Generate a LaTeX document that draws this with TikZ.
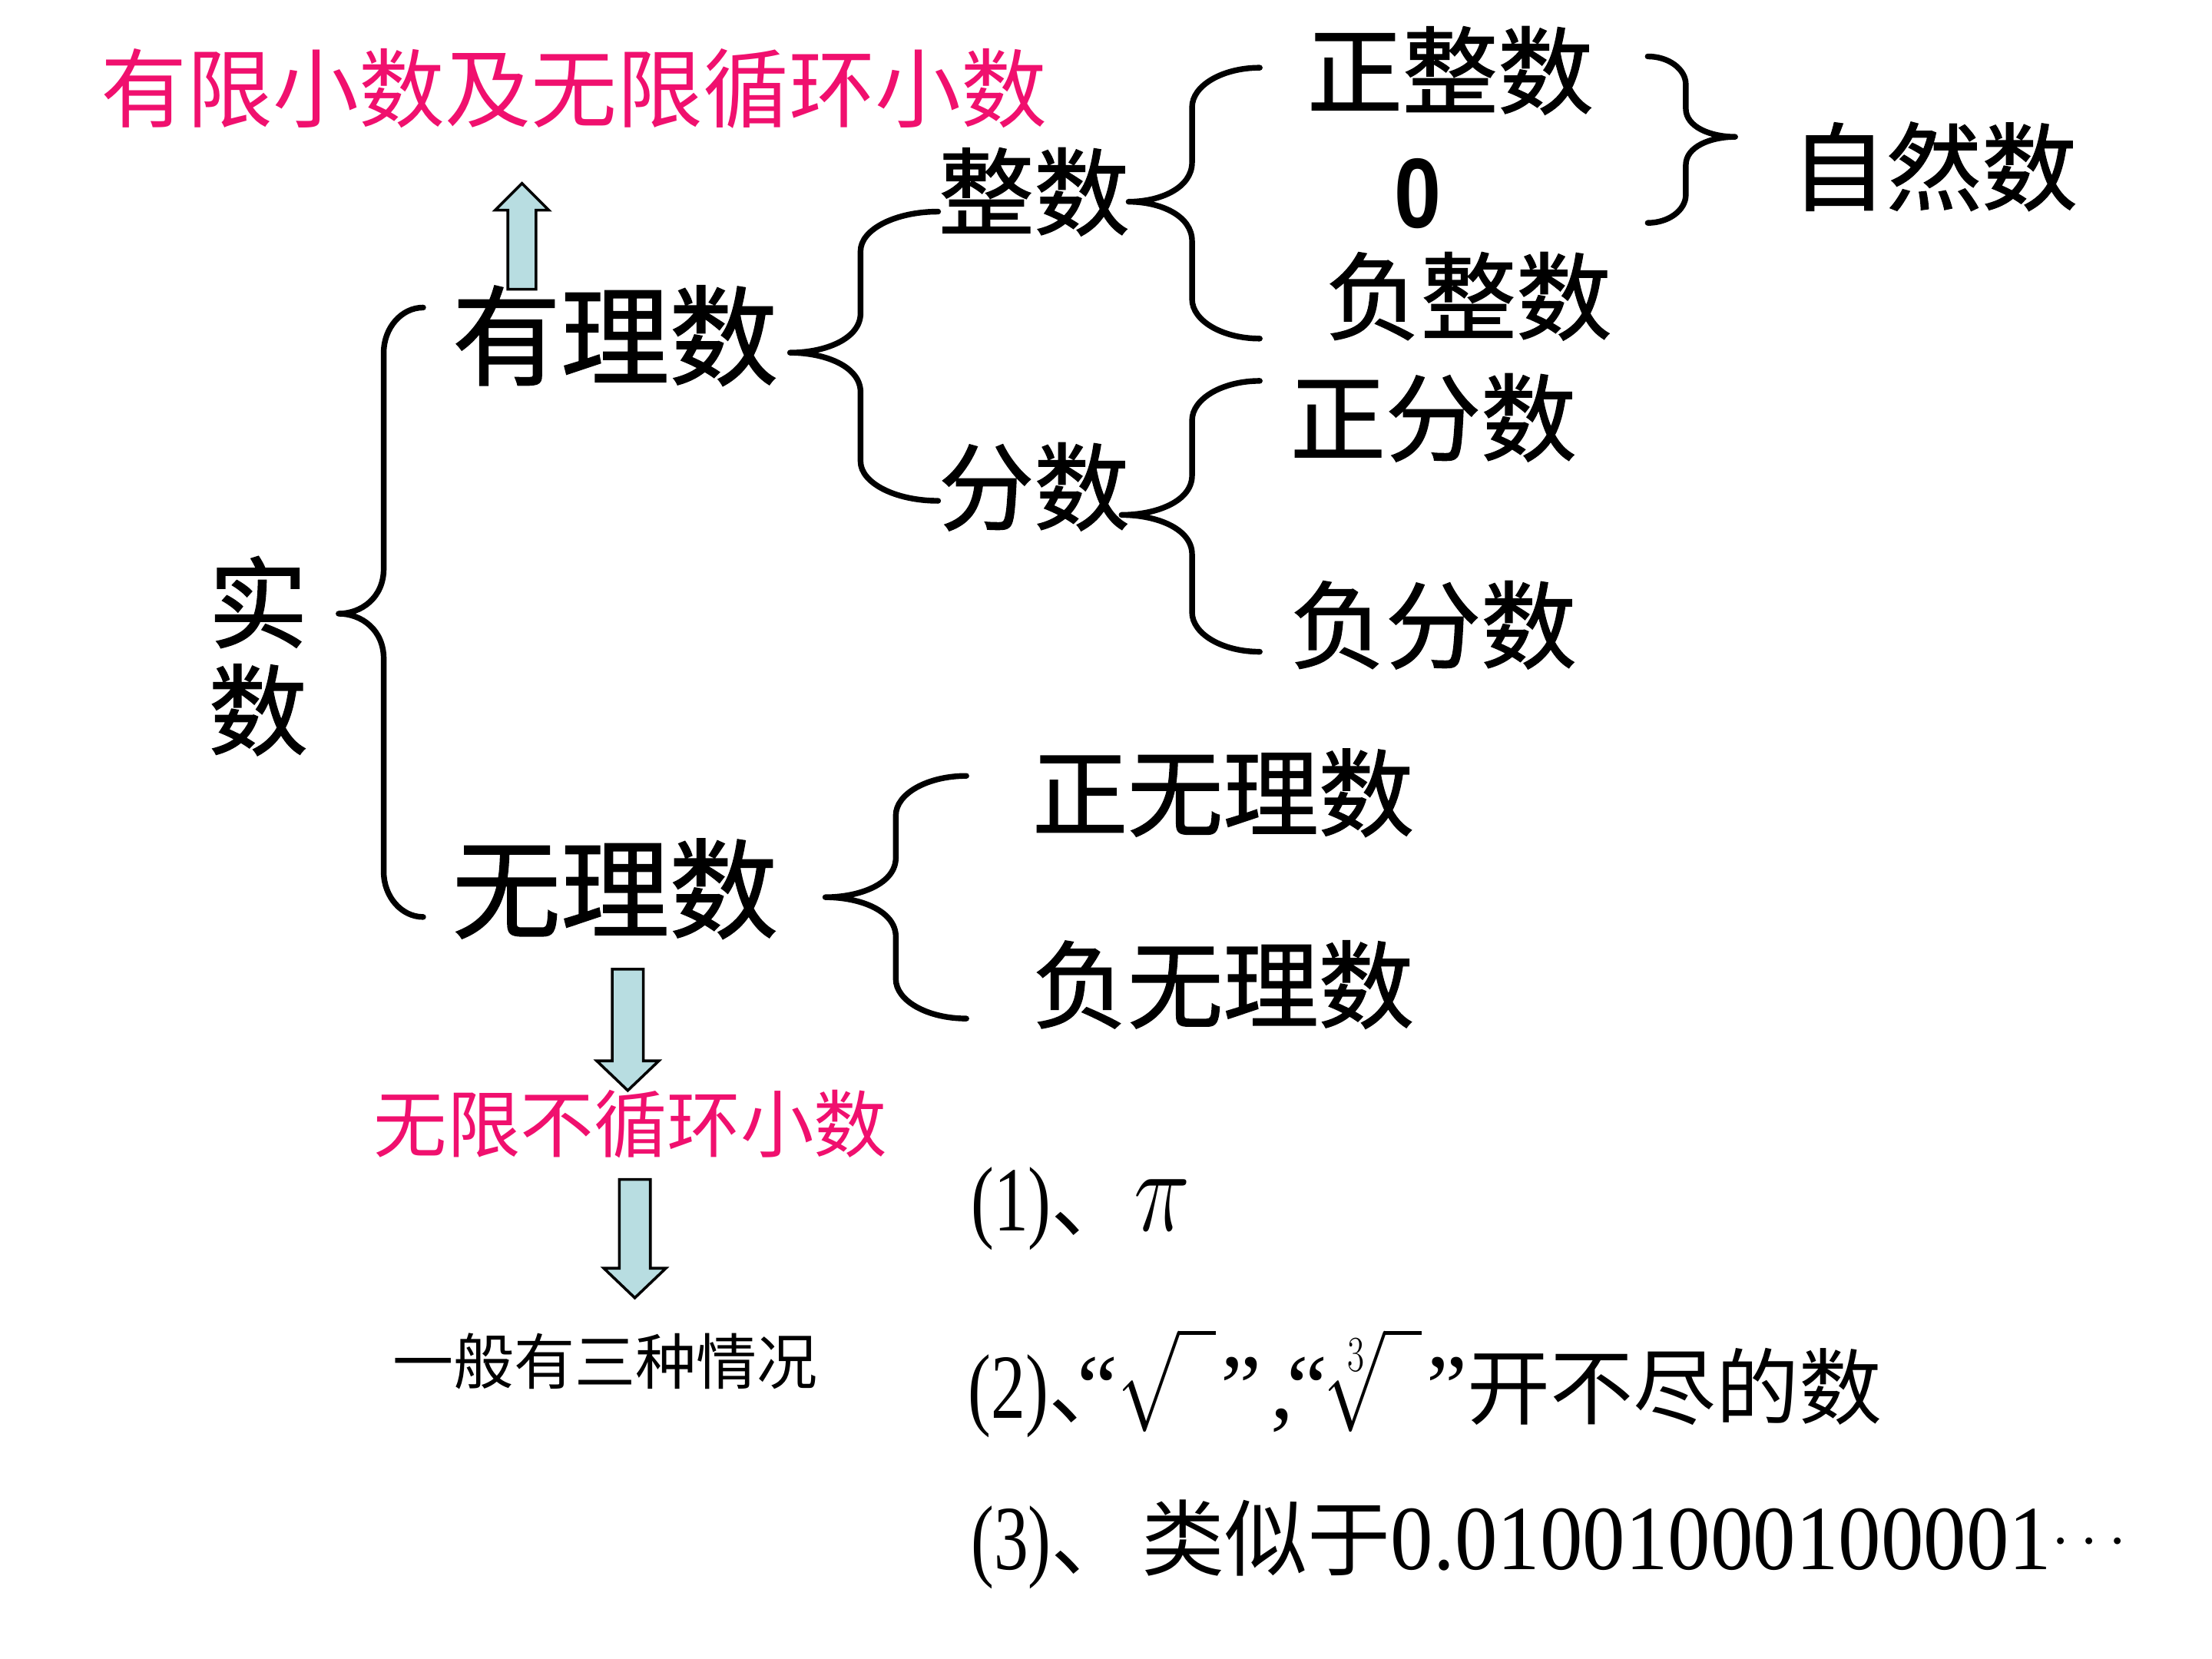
\RequirePackage{fix-cm}
\documentclass[tikz,border=0pt]{standalone}
\usepackage{fontspec}
\usepackage{graphicx}
\setmainfont{Liberation Serif}
\newfontfamily\cjk{Noto Sans CJK SC}
\newfontfamily\cjkb{Noto Sans CJK SC}[FakeBold=1.2]
\newfontfamily\arialf{Liberation Sans}
\definecolor{hot}{RGB}{240,16,110}
\definecolor{arrfill}{RGB}{184,221,225}
\newcommand\squash[1]{\scalebox{0.75}[1]{#1}}
% brace: xe yt yb xv xt ym r
\newcommand\drawbrace[7]{%
 \draw[br] (#1,#2) .. controls ({#4+0.45*(#1-#4)},#2) and (#4,{#2+0.45*#7}) .. (#4,{#2+#7})
 -- (#4,{#6-#7}) .. controls (#4,{#6-0.35*#7}) and ({#5+0.5*(#4-#5)},#6) .. (#5,#6)
 .. controls ({#5+0.5*(#4-#5)},#6) and (#4,{#6+0.35*#7}) .. (#4,{#6+#7})
 -- (#4,{#3-#7}) .. controls (#4,{#3-0.45*#7}) and ({#4+0.45*(#1-#4)},#3) .. (#1,#3);}
% block arrow: x, ybase, yheadbase, ytip, shafthalf, headhalf
\newcommand\blkarrow[6]{%
 \draw[blk] ({#1-#5},#2) -- ({#1-#5},#3) -- ({#1-#6},#3) -- (#1,#4) -- ({#1+#6},#3) -- ({#1+#5},#3) -- ({#1+#5},#2) -- cycle;}
\tikzset{
 br/.style={line width=2.3pt, line cap=round, line join=round},
 blk/.style={draw=black, line width=1.1pt, fill=arrfill, line join=miter},
 big/.style={font=\cjkb\fontsize{43.8}{48}\selectfont, inner sep=0pt},
 mid/.style={font=\cjkb\fontsize{38.5}{42}\selectfont, inner sep=0pt},
 ttl/.style={font=\cjk\fontsize{34.7}{38}\selectfont, text=hot, inner sep=0pt},
 red2/.style={font=\cjk\fontsize{29.6}{32}\selectfont, text=hot, inner sep=0pt},
 small/.style={font=\cjk\fontsize{24.5}{27}\selectfont, inner sep=0pt},
 bot/.style={font=\fontsize{37}{40}\selectfont, inner sep=0pt, anchor=west},
}
\newcommand\bc{\cjk\fontsize{33.5}{36}\selectfont}
\newcommand\rad{\scalebox{0.8}[1.1]{$\sqrt{\vphantom{A}\hspace{0.5em}}$}}
\newcommand\radc{\scalebox{0.8}[1.1]{$\sqrt[3]{\vphantom{A}\hspace{0.5em}}$}}
\begin{document}
\begin{tikzpicture}[x=0.02cm,y=-0.02cm]
\useasboundingbox[fill=white] (0,0) rectangle (1568,1176);
% texts
\node[ttl] (t1) at (407,63) {有限小数及无限循环小数};
\node[big, align=center, font=\cjkb\fontsize{40}{43.2}\selectfont] (shishu) at (183,465) {实\\数};
\node[big] (youli) at (436,238) {有理数};
\node[big] (wuli) at (436,630) {无理数};
\node[mid] (zhengshu) at (733,136) {整数};
\node[mid] (fenshu) at (733,345) {分数};
\node[mid] (zz) at (1028,50) {正整数};
\node[inner sep=0pt, font=\arialf\bfseries\fontsize{40}{40}\selectfont] (zero) at (1005,137) {\scalebox{0.85}[1]{0}};
\node[mid] (fz) at (1041,210) {负整数};
\node[mid] (zr) at (1371,118) {自然数};
\node[mid] (zf) at (1016,296) {正分数};
\node[mid] (ff) at (1016,443) {负分数};
\node[mid] (zw) at (867,562) {正无理数};
\node[mid] (fw) at (867,698) {负无理数};
\node[red2] (t2) at (447,797) {无限不循环小数};
\node[small] (t3) at (429,965) {一般有三种情况};
% bottom lines
\node[bot] (l1) at (688,857) {\squash{(1)}{\bc 、}\scalebox{0.8}[1]{\fontsize{48}{48}\selectfont$\pi$}};
\node[bot] (l2) at (686,980) {\squash{(2)}{\bc 、}\hspace{-22pt}“\rad\hspace{2pt}”\hspace{4pt},\hspace{-3pt}“\radc\hspace{2pt}”{\bc 开不尽的数}};
\node[bot] (l3) at (688,1095) {\squash{(3)}{\bc 、}\hspace{3pt}{\bc 类似于}\scalebox{0.93}[1]{0.01001000100001}\raisebox{5pt}{\scalebox{0.7}{$\cdots$}}};
% braces
\drawbrace{300}{218}{650}{272}{240}{435}{32}
\drawbrace{665}{150}{355}{610}{560}{250}{28}
\drawbrace{893}{48}{240}{845}{800}{143}{28}
\drawbrace{893}{270}{462}{845}{795}{365}{28}
\drawbrace{685}{550}{722}{635}{585}{636}{28}
\drawbrace{1168}{40}{158}{1195}{1230}{97}{20}
% block arrows
\blkarrow{370}{205}{149}{130}{10}{19}
\blkarrow{445}{687}{752}{773}{11}{22}
\blkarrow{450}{836}{899}{920}{11}{22}
\end{tikzpicture}
\end{document}
